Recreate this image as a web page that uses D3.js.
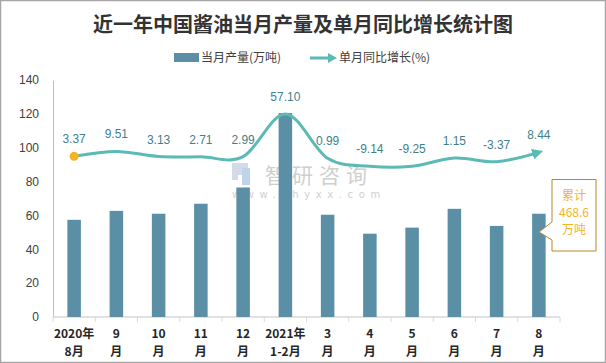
<!DOCTYPE html>
<html>
<head>
<meta charset="utf-8">
<script src="https://cdn.jsdelivr.net/npm/d3@7"></script>
<style>
  html, body { margin: 0; padding: 0; background: #fff; }
  svg { display: block; }
</style>
</head>
<body>
<div id="chart"></div>
<script>
// data
const categories = [["2020年", "8月"], ["9", "月"], ["10", "月"], ["11", "月"], ["12", "月"], ["2021年", "1-2月"],
  ["3", "月"], ["4", "月"], ["5", "月"], ["6", "月"], ["7", "月"], ["8", "月"]];
const production = [57.4, 62.7, 61.0, 66.9, 76.5, 120.5, 60.4, 49.2, 52.8, 63.9, 53.8, 61.0];
const growth = [3.37, 9.51, 3.13, 2.71, 2.99, 57.10, 0.99, -9.14, -9.25, 1.15, -3.37, 8.44];
const yTicks = [0, 20, 40, 60, 80, 100, 120, 140];
const calloutLines = ["累计", "468.6", "万吨"];

const width = 606, height = 363;
const margin = { top: 80, right: 46, bottom: 46, left: 53 };
const barColor = "#5b8fa6", lineColor = "#5bbab3", labelColor = "#3f7f8f";
const cjk = "'Noto Sans CJK SC', 'Microsoft YaHei', sans-serif";

const svg = d3.select("#chart").append("svg")
  .attr("width", width)
  .attr("height", height)
  .style("font-family", cjk);

// outer frame
svg.append("rect")
  .attr("x", 0.5).attr("y", 0.5)
  .attr("width", width - 1).attr("height", height - 1)
  .attr("fill", "#fff").attr("stroke", "#a6a6a6").attr("stroke-width", 1.5);

/**
 * Scales
 */
const x = d3.scaleBand()
  .domain(d3.range(categories.length))
  .range([margin.left, width - margin.right])
  .paddingInner(0.68).paddingOuter(0.34);
const xBand = d3.scaleBand()
  .domain(d3.range(categories.length))
  .range([margin.left, width - margin.right]);
const y = d3.scaleLinear().domain([0, 140]).range([height - margin.bottom, margin.top]);
// hidden secondary axis for the growth line
const y2 = d3.scaleLinear().domain([-200, 100]).range([height - margin.bottom, margin.top]);

/**
 * Title and legend
 */
svg.append("text")
  .attr("x", 303).attr("y", 32)
  .attr("text-anchor", "middle")
  .attr("font-size", 20).attr("font-weight", 700)
  .attr("fill", "#333")
  .text("近一年中国酱油当月产量及单月同比增长统计图");

const legend = svg.append("g").attr("font-size", 12).attr("fill", "#404040");
legend.append("rect")
  .attr("x", 174).attr("y", 53).attr("width", 25).attr("height", 9)
  .attr("fill", barColor);
legend.append("text").attr("x", 201).attr("y", 62).text("当月产量(万吨)");
legend.append("line")
  .attr("x1", 310).attr("x2", 330).attr("y1", 58).attr("y2", 58)
  .attr("stroke", lineColor).attr("stroke-width", 3);
legend.append("path")
  .attr("d", "M328,53 L337,58 L328,63 Z").attr("fill", lineColor);
legend.append("text").attr("x", 339).attr("y", 62).text("单月同比增长(%)");

/**
 * Watermark
 */
const wm = svg.append("g").attr("fill", "#cfcfcf");
wm.append("path")
  .attr("d", "M232,163 L248,163 L248,175 L238,175 L238,180 L232,180 Z")
  .attr("fill", "#d3dbe8");
wm.append("rect").attr("x", 242).attr("y", 168).attr("width", 8).attr("height", 17).attr("fill", "#bfd3ea");
wm.append("text").attr("x", 265).attr("y", 183).attr("font-size", 21)
  .attr("letter-spacing", 6).text("智研咨询");
wm.append("text").attr("x", 232).attr("y", 198).attr("font-size", 10)
  .attr("letter-spacing", 5.6).attr("font-family", "'DejaVu Sans', sans-serif").text("www.chyxx.com");

/**
 * Axes
 */
const yAxis = svg.append("g")
  .attr("transform", `translate(${margin.left},0)`)
  .call(d3.axisLeft(y).tickValues(yTicks).tickSize(0).tickPadding(14));
yAxis.select(".domain").attr("stroke", "#bfbfbf");
yAxis.selectAll("text").attr("font-size", 12).attr("fill", "#404040")
  .attr("font-family", "'Liberation Sans', Arial, sans-serif");

const xAxisG = svg.append("g").attr("transform", `translate(0,${height - margin.bottom})`);
xAxisG.append("line")
  .attr("x1", margin.left).attr("x2", width - margin.right)
  .attr("stroke", "#d9d9d9").attr("stroke-width", 1.5);
xAxisG.selectAll("line.tick")
  .data(d3.range(categories.length + 1))
  .enter().append("line")
  .attr("class", "tick")
  .attr("x1", d => margin.left + d * xBand.bandwidth())
  .attr("x2", d => margin.left + d * xBand.bandwidth())
  .attr("y1", 0).attr("y2", 5)
  .attr("stroke", "#d9d9d9");

xAxisG.selectAll("text.cat")
  .data(categories)
  .enter().append("text")
  .attr("class", "cat")
  .attr("text-anchor", "middle")
  .attr("font-size", 12).attr("font-weight", 700).attr("fill", "#262626")
  .attr("font-family", "'Liberation Sans Narrow', " + cjk)
  .each(function (d, i) {
    const t = d3.select(this);
    d.forEach((line, k) => {
      t.append("tspan")
        .attr("x", xBand(i) + xBand.bandwidth() / 2)
        .attr("y", 21 + k * 18)
        .text(line);
    });
  });

/**
 * Bars
 */
svg.append("g").selectAll("rect")
  .data(production)
  .enter().append("rect")
  .attr("x", (d, i) => x(i))
  .attr("width", x.bandwidth())
  .attr("y", d => y(d))
  .attr("height", d => y(0) - y(d))
  .attr("fill", barColor);

/**
 * Growth line
 */
const cx = i => xBand(i) + xBand.bandwidth() / 2;
const line = d3.line()
  .x((d, i) => cx(i))
  .y(d => y2(d))
  .curve(d3.curveCardinal.tension(0));

const defs = svg.append("defs");
defs.append("marker")
  .attr("id", "arrow")
  .attr("markerUnits", "userSpaceOnUse")
  .attr("viewBox", "0 0 10 10")
  .attr("refX", 6).attr("refY", 5)
  .attr("markerWidth", 11).attr("markerHeight", 11)
  .attr("orient", "auto")
  .append("path").attr("d", "M0,0 L10,5 L0,10 Z").attr("fill", lineColor);

svg.append("path")
  .datum(growth)
  .attr("d", line)
  .attr("fill", "none")
  .attr("stroke", lineColor)
  .attr("stroke-width", 3)
  .attr("marker-end", "url(#arrow)");

svg.append("circle")
  .attr("cx", cx(0)).attr("cy", y2(growth[0]))
  .attr("r", 4.5).attr("fill", "#f5b324");

svg.append("g").selectAll("text")
  .data(growth)
  .enter().append("text")
  .attr("x", (d, i) => cx(i))
  .attr("y", d => y2(d) - 13)
  .attr("text-anchor", "middle")
  .attr("font-size", 12)
  .attr("font-family", "'Liberation Sans', Arial, sans-serif")
  .attr("fill", labelColor)
  .text(d => d.toFixed(2));

/**
 * Callout
 */
const co = svg.append("g");
co.append("path")
  .attr("d", "M552,179.5 L596,179.5 L596,251 L552,251 L552,240 L539,232 L552,222 Z")
  .attr("fill", "#fff").attr("stroke", "#b8862b").attr("stroke-width", 1);
co.selectAll("text")
  .data(calloutLines)
  .enter().append("text")
  .attr("x", 574)
  .attr("y", (d, i) => 200 + i * 17)
  .attr("text-anchor", "middle")
  .attr("font-size", 12)
  .attr("fill", "#f5b324")
  .text(d => d);
</script>
</body>
</html>
